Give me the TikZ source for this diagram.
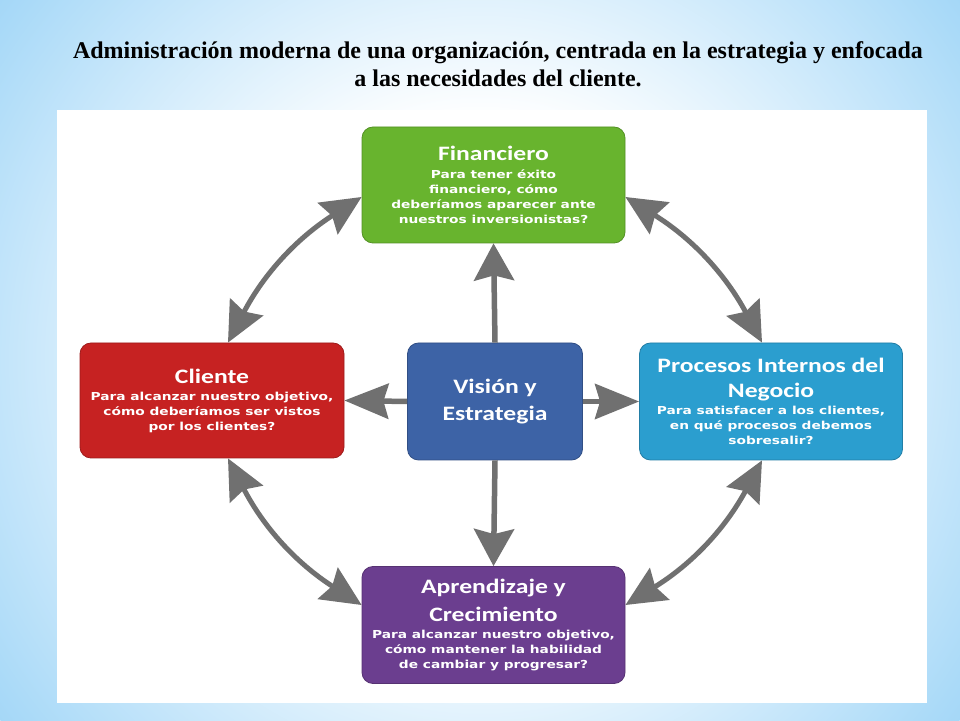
\documentclass[tikz,border=0pt]{standalone}
\usepackage{fontspec}
\usepackage{graphicx}
\setmainfont{Liberation Serif}
\newfontfamily\hdfont{Carlito}
\newfontfamily\bdfont{DejaVu Sans}
\usetikzlibrary{arrows.meta,calc}
\definecolor{bgA}{RGB}{170,218,248}
\definecolor{bgB}{RGB}{128,196,241}
\definecolor{gfin}{RGB}{104,180,46}
\definecolor{rcli}{RGB}{198,34,34}
\definecolor{bvis}{RGB}{61,99,166}
\definecolor{cpro}{RGB}{43,158,207}
\definecolor{papr}{RGB}{107,62,143}
\definecolor{agray}{RGB}{112,112,112}
\pgfdeclareradialshading{bgsh}{\pgfpoint{0bp}{0bp}}{color(0bp)=(white); color(10bp)=(white); color(24bp)=(bgA); color(32bp)=(bgB)}
\newcommand\hdl[1]{{\hdfont\bfseries\fontsize{20.5}{24}\selectfont\scalebox{1.25}[1]{#1}}}
\newcommand\bdl[1]{\scalebox{1.25}[1]{#1}}
\tikzset{
  box/.style={draw=#1!80!black, fill=#1, line width=0.8pt, rounded corners=11pt,
    text=white, align=center, inner sep=0pt,
    font=\bdfont\bfseries\fontsize{11}{15}\selectfont},
  varr/.style={draw=agray, line width=5.5pt, -{Stealth[length=37pt,width=40pt,inset=5pt]}},
  harr/.style={draw=agray, line width=5.5pt, -{Stealth[length=44pt,width=35pt,inset=5pt]}},
  darr/.style={draw=agray, line width=5pt,
    {Stealth[length=40pt,width=37pt,inset=5pt]}-{Stealth[length=40pt,width=37pt,inset=5pt]}},
  ttl/.style={align=center, font=\bfseries\fontsize{24}{28}\selectfont}
}
\begin{document}
\begin{tikzpicture}[x=1pt,y=1pt]
\useasboundingbox (0,0) rectangle (960,720);
\begin{scope}
\clip (0,0) rectangle (960,720);
\shade[shading=bgsh] (480,360) circle (600);
\end{scope}
\fill[white] (57,17) rectangle (927,610);
\node[ttl] (title) at (498,656) {Administración moderna de una organización, centrada en la estrategia y enfocada\\a las necesidades del cliente.};

\node[box=gfin, minimum width=263pt, minimum height=116pt] (fin) at (493.5,535)
  {\hdl{Financiero}\\[3pt]\bdl{Para tener éxito}\\\bdl{financiero, cómo}\\\bdl{deberíamos aparecer ante}\\\bdl{nuestros inversionistas?}};
\node[box=rcli, minimum width=264pt, minimum height=115pt] (cli) at (212,319.5)
  {\hdl{Cliente}\\[2pt]\bdl{Para alcanzar nuestro objetivo,}\\\bdl{cómo deberíamos ser vistos}\\\bdl{por los clientes?}};
\node[box=bvis, minimum width=175pt, minimum height=117pt] (vis) at (495,318.5)
  {\hdl{Visión y}\\[8pt]\hdl{Estrategia}};
\node[box=cpro, minimum width=263pt, minimum height=117pt] (pro) at (771,318.5)
  {\hdl{Procesos Internos del}\\[10pt]\hdl{Negocio}\\[2pt]\bdl{Para satisfacer a los clientes,}\\\bdl{en qué procesos debemos}\\\bdl{sobresalir?}};
\node[box=papr, minimum width=263pt, minimum height=117pt] (apr) at (493.5,95)
  {\hdl{Aprendizaje y}\\[10pt]\hdl{Crecimiento}\\[2pt]\bdl{Para alcanzar nuestro objetivo,}\\\bdl{cómo mantener la habilidad}\\\bdl{de cambiar y progresar?}};

\draw[varr] (vis.north) -- (fin.south);
\draw[varr] (vis.south) -- (apr.north);
\draw[harr] (vis.west) -- (cli.east);
\draw[harr] (vis.east) -- (pro.west);

\draw[darr] ([xshift=16pt]cli.north) to[bend left=15] ([yshift=-12pt]fin.west);
\draw[darr] ([yshift=-12pt]fin.east) to[bend left=15] ([xshift=-9pt]pro.north);
\draw[darr] ([xshift=16pt]cli.south) to[bend right=15] ([yshift=20pt]apr.west);
\draw[darr] ([xshift=-9pt]pro.south) to[bend left=15] ([yshift=20pt]apr.east);
\end{tikzpicture}
\end{document}
